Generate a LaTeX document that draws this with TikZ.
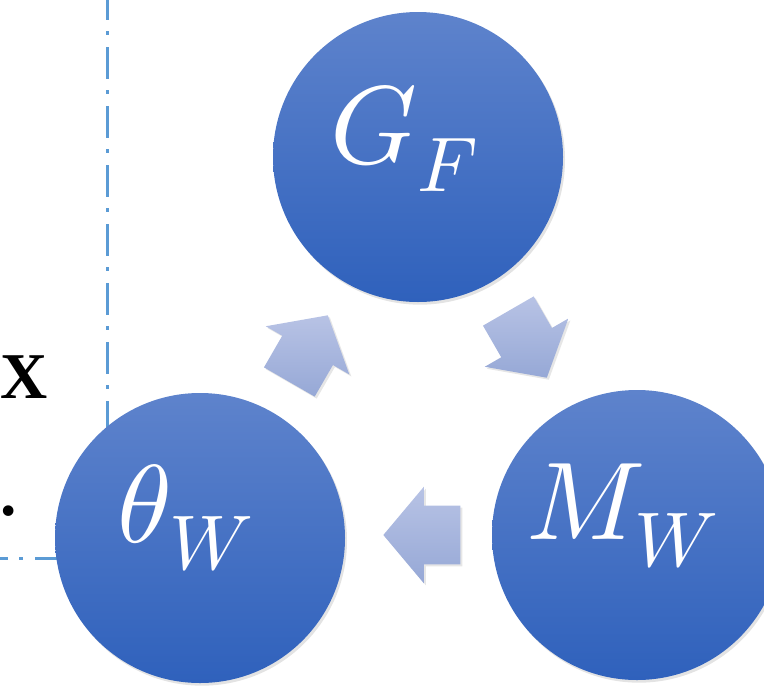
\documentclass[tikz,border=0pt]{standalone}
\usepackage{fontspec}
\usepackage{unicode-math}
\newfontfamily\timesfont{Liberation Serif}
\usetikzlibrary{shapes.arrows,shadows}
\definecolor{ballTop}{RGB}{94,131,204}
\definecolor{ballBot}{RGB}{47,97,188}
\definecolor{arrTop}{RGB}{184,195,229}
\definecolor{arrBot}{RGB}{150,168,214}
\definecolor{guideBlue}{RGB}{91,155,213}

\begin{document}
\begin{tikzpicture}[x=0.75pt,y=-0.75pt,
    ball/.style={circle,minimum size=217.5pt,inner sep=0pt,
      top color=ballTop,bottom color=ballBot,
      drop shadow={opacity=0.22,shadow xshift=1.5pt,shadow yshift=-2pt}},
    cyc/.style={single arrow,inner xsep=0pt,inner ysep=21.75pt,
      single arrow head extend=14.25pt,single arrow tip angle=100,
      minimum height=57.75pt,anchor=tip,
      top color=arrTop,bottom color=arrBot,
      drop shadow={opacity=0.2,shadow xshift=1.5pt,shadow yshift=-1.5pt}},
    sym/.style={text=white,inner sep=0pt,font=\fontsize{83}{90}\selectfont},
    guide/.style={draw=guideBlue,line width=2.25pt,
      dash pattern=on 24pt off 8.25pt on 3pt off 9pt}]
  \useasboundingbox (0,0) rectangle (764,686);
  \clip (0,0) rectangle (764,686);

  % dash-dot guide lines (behind the circles)
  \coordinate (vtop) at (107,0);
  \coordinate (vbot) at (107,440);
  \coordinate (hl) at (0,558);
  \coordinate (hr) at (90,558);
  \draw[guide,dash phase=9pt] (vtop) -- (vbot);
  \draw[guide,dash phase=18pt] (hl) -- (hr);

  % cut-off text at the left
  \node[anchor=base west,inner sep=0pt,font=\timesfont\fontsize{49}{55}\selectfont\bfseries] (xtxt) at (0,398) {X};
  \node[anchor=base west,inner sep=0pt,font=\timesfont\fontsize{49}{55}\selectfont\bfseries] (dot) at (0,515) {.};

  % the three circles
  \node[ball] (gf) at (418,157) {};
  \node[ball] (thw) at (200,538) {};
  \node[ball] (mw) at (637,535) {};
  \node[sym] (gftxt) at ([xshift=-10pt,yshift=14pt]gf.center) {$G_F$};
  \node[sym] (thwtxt) at ([xshift=-11pt,yshift=15pt]thw.center) {$\theta_W$};
  \node[sym] (mwtxt) at ([xshift=-11pt,yshift=14pt]mw.center) {$M_W$};

  % cycle arrows, placed by their tips
  \node[cyc,rotate=60] (a1) at (328,315) {};
  \node[cyc,rotate=-60] (a2) at (547,378) {};
  \node[cyc,shape border rotate=180] (a3) at (383,535) {};
\end{tikzpicture}
\end{document}
